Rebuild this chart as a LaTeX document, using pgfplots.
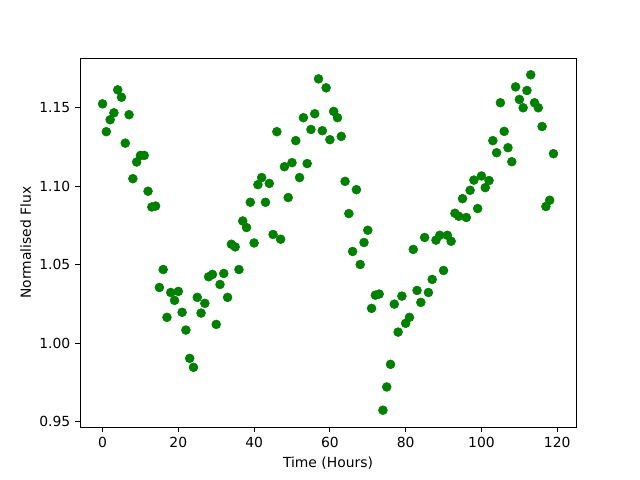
\documentclass[border=0pt]{standalone}
\usepackage{pgfplots}
\pgfplotsset{compat=1.18}
\usepackage{fontspec}
\setmainfont{DejaVu Sans}
\definecolor{mplgreen}{HTML}{008000}
\begin{document}
\begin{tikzpicture}
\begin{axis}[
  scale only axis,
  width=357.12pt, height=265.68pt,
  xmin=-5.95, xmax=124.95,
  ymin=0.94673, ymax=1.18147,
  xtick={0,20,40,60,80,100,120},
  ytick={0.95,1.00,1.05,1.10,1.15},
  yticklabel style={/pgf/number format/.cd, fixed, fixed zerofill, precision=2},
  /pgf/number format/assume math mode=true,
  tick align=outside,
  tick pos=left,
  major tick length=3.5pt,
  tick style={black, line width=0.6pt},
  axis line style={line width=0.6pt},
  font=\fontsize{10}{12}\selectfont,
  xlabel={Time (Hours)},
  ylabel={Normalised Flux},
  ylabel style={yshift=-1pt},
]
\addplot[only marks, mark=*, mark size=3.2pt, color=mplgreen, mark options={fill=mplgreen, draw=mplgreen}] coordinates {
(0,1.1523)(1,1.1346)(2,1.1422)(3,1.1466)(4,1.1612)(5,1.1565)(6,1.1273)(7,1.1454)(8,1.1047)(9,1.1153)
(10,1.1195)(11,1.1195)(12,1.0967)(13,1.0867)(14,1.0873)(15,1.0355)(16,1.0469)(17,1.0165)(18,1.0323)(19,1.0273)
(20,1.0330)(21,1.0197)(22,1.0084)(23,0.9904)(24,0.9847)(25,1.0292)(26,1.0192)(27,1.0254)(28,1.0423)(29,1.0438)
(30,1.0120)(31,1.0374)(32,1.0444)(33,1.0292)(34,1.0630)(35,1.0613)(36,1.0469)(37,1.0778)(38,1.0736)(39,1.0897)
(40,1.0638)(41,1.1009)(42,1.1054)(43,1.0897)(44,1.1017)(45,1.0692)(46,1.1346)(47,1.0662)(48,1.1123)(49,1.0927)
(50,1.1149)(51,1.1289)(52,1.1054)(53,1.1435)(54,1.1143)(55,1.1360)(56,1.1460)(57,1.1682)(58,1.1352)(59,1.1625)
(60,1.1295)(61,1.1475)(62,1.1435)(63,1.1316)(64,1.1030)(65,1.0825)(66,1.0584)(67,1.0977)(68,1.0501)(69,1.0641)
(70,1.0719)(71,1.0222)(72,1.0306)(73,1.0313)(74,0.9574)(75,0.9722)(76,0.9866)(77,1.0249)(78,1.0071)(79,1.0300)
(80,1.0127)(81,1.0165)(82,1.0597)(83,1.0336)(84,1.0260)(85,1.0673)(86,1.0323)(87,1.0406)(88,1.0656)(89,1.0687)
(90,1.0463)(91,1.0687)(92,1.0649)(93,1.0827)(94,1.0808)(95,1.0920)(96,1.0800)(97,1.0973)(98,1.1038)(99,1.0857)
(100,1.1064)(101,1.0990)(102,1.1035)(103,1.1289)(104,1.1212)(105,1.1530)(106,1.1348)(107,1.1244)(108,1.1155)(109,1.1631)
(110,1.1551)(111,1.1498)(112,1.1608)(113,1.1708)(114,1.1530)(115,1.1498)(116,1.1379)(117,1.0870)(118,1.0910)(119,1.1206)
};
\end{axis}
\path ([shift={(-57.6pt,-38.16pt)}]current axis.south west) rectangle ([shift={(46.08pt,41.76pt)}]current axis.north east);
\end{tikzpicture}
\end{document}
